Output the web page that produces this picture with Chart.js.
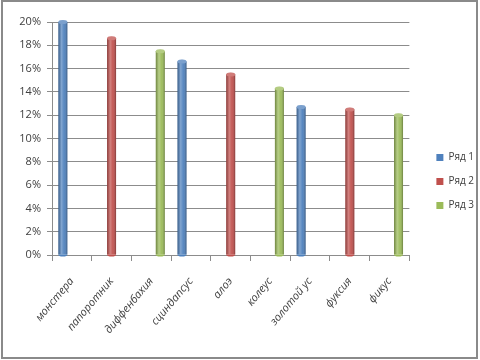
<!DOCTYPE html>
<html><head><meta charset="utf-8">
<script src="https://cdn.jsdelivr.net/npm/chart.js@4/dist/chart.umd.min.js"></script>
<style>html,body{margin:0;padding:0;background:#fff}#wrap{width:480px;height:360px}</style>
</head><body><div id="wrap"><canvas id="c" width="480" height="360"></canvas></div>
<script>
const categories = ['монстера','папоротник','диффенбахия','сциндапсус','алоэ','колеус','золотой ус','фуксия','фикус'];
const seriesNames = ['Ряд 1','Ряд 2','Ряд 3'];
const series1 = [20, null, null, 16.6, null, null, 12.7, null, null];
const series2 = [null, 18.6, null, null, 15.5, null, null, 12.5, null];
const series3 = [null, null, 17.5, null, null, 14.3, null, null, 12.0];
const colors = ['#4F81BD','#C0504D','#9BBB59'];

const cylinder = {
  id:'cylinder',
  afterDatasetsDraw(chart){
    const ctx = chart.ctx;
    chart.data.datasets.forEach((ds,i)=>{
      const meta = chart.getDatasetMeta(i);
      meta.data.forEach(el=>{
        if (el.skip || el.y == null || isNaN(el.y)) return;
        const w = el.width, x0 = el.x - w/2, top = Math.min(el.y, el.base), bot = Math.max(el.y, el.base);
        if (!(w>0) || bot-top < 1) return;
        const g = ctx.createLinearGradient(x0,0,x0+w,0);
        g.addColorStop(0,'rgba(0,0,0,0.28)');
        g.addColorStop(0.35,'rgba(255,255,255,0.28)');
        g.addColorStop(0.65,'rgba(255,255,255,0.05)');
        g.addColorStop(1,'rgba(0,0,0,0.32)');
        ctx.save();
        ctx.fillStyle = g;
        ctx.fillRect(x0, top, w, bot-top);
        ctx.beginPath();
        ctx.ellipse(el.x, top, w/2, 2, 0, 0, Math.PI*2);
        ctx.fillStyle = colors[i];
        ctx.fill();
        ctx.fillStyle = 'rgba(255,255,255,0.25)';
        ctx.fill();
        ctx.beginPath();
        ctx.ellipse(el.x, bot, w/2, 2, 0, 0, Math.PI);
        ctx.fillStyle = colors[i];
        ctx.fill();
        ctx.restore();
      });
    });
  }
};
const frame = {
  id:'frame',
  afterLayout(chart){
    const lg = chart.legend;
    if (lg) { lg.left += 13; lg.right += 13; lg.top -= 6; lg.bottom -= 6; }
  },
  afterDraw(chart){
    const ctx = chart.ctx;
    ctx.save();
    ctx.strokeStyle = '#8a8a8a';
    ctx.lineWidth = 2;
    ctx.strokeRect(2,1,475,357);
    ctx.restore();
  }
};

const font = "'Open Sans','Noto Sans','DejaVu Sans',sans-serif";
new Chart(document.getElementById('c'), {
  type:'bar',
  data:{
    labels: categories,
    datasets: [series1, series2, series3].map((d,i)=>({
      label: seriesNames[i], data: d, backgroundColor: colors[i], borderWidth:0,
      barPercentage: 1.0, categoryPercentage: 0.68
    }))
  },
  options:{
    responsive:false, animation:false, devicePixelRatio:1,
    layout:{padding:{left:8,right:9,top:22,bottom:7}},
    plugins:{
      legend:{position:'right', align:'center',
        labels:{boxWidth:7, boxHeight:7, padding:14, color:'#404040', font:{family:font,size:10}}},
      tooltip:{enabled:false}
    },
    scales:{
      y:{min:0,max:20,
        ticks:{stepSize:2, color:'#404040', font:{family:font,size:11}, padding:6, callback:v=>v+'%'},
        grid:{color:'#8c8c8c', tickLength:5, drawTicks:true},
        border:{color:'#8c8c8c'},
        afterFit(s){ s.width = 44; }
      },
      x:{
        ticks:{color:'#404040', font:{family:font,size:11,style:'italic'}, minRotation:50, maxRotation:50, padding:14},
        grid:{drawOnChartArea:false, color:'#8c8c8c', tickLength:6, offset:true},
        border:{color:'#8c8c8c'},
        afterFit(s){ s.height = 98; }
      }
    }
  },
  plugins:[cylinder, frame]
});
</script></body></html>
